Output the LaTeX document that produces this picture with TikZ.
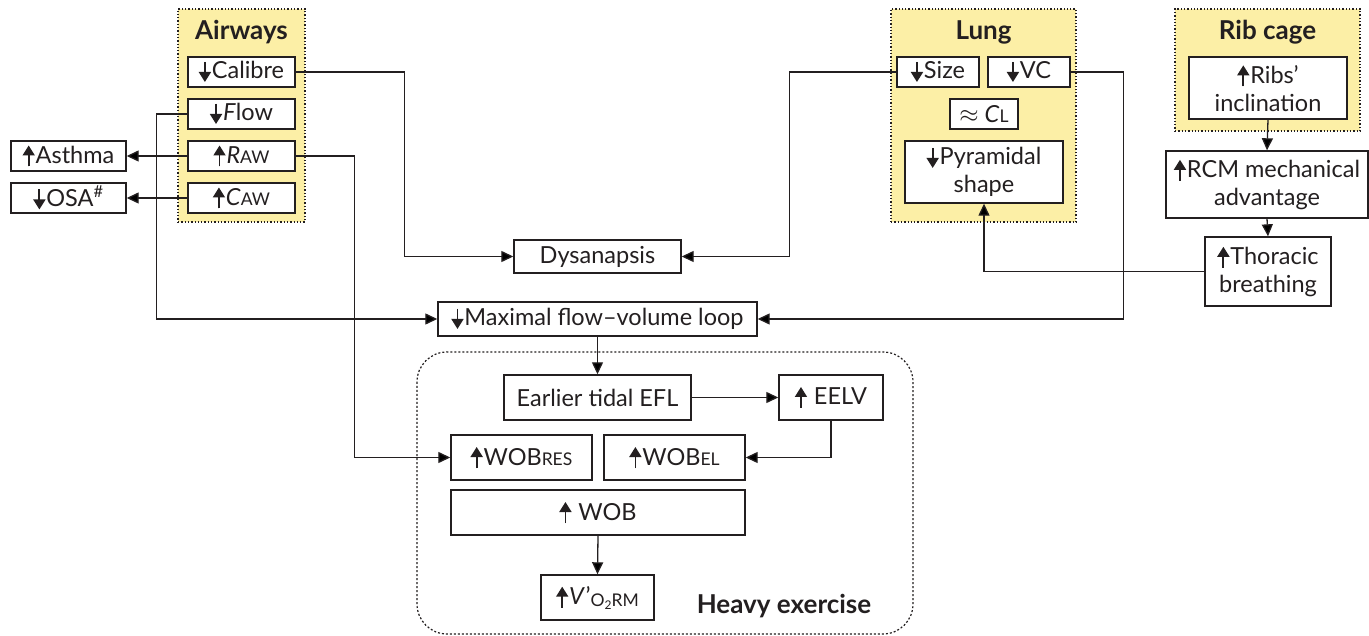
\documentclass[tikz,border=0pt]{standalone}
\usepackage{fontspec}
\setmainfont{Lato}
\usetikzlibrary{arrows.meta,calc}
\definecolor{ink}{HTML}{231F20}
\definecolor{pale}{HTML}{FCEFA6}
\newcommand{\uarr}{\tikz[baseline=0pt]\draw[draw=ink,fill=ink,line width=1.8pt,-{Triangle[length=10pt,width=12pt]}](0pt,-3pt)--(0pt,18pt);\kern1pt}
\newcommand{\darr}{\tikz[baseline=0pt]\draw[draw=ink,fill=ink,line width=1.8pt,-{Triangle[length=10pt,width=12pt]}](0pt,17pt)--(0pt,-3pt);\kern1pt}
\newcommand{\sm}[1]{{\fontsize{17.5}{17.5}\selectfont #1}}
\tikzset{
  box/.style={draw=ink, line width=1.4pt, fill=white, inner sep=0pt, font=\fontsize{23.5}{28}\selectfont, text=ink, align=center},
  grp/.style={draw=ink, dotted, line width=1.3pt, fill=pale, inner sep=0pt},
  conn/.style={draw=ink, line width=1.3pt, -{Triangle[length=12pt,width=11pt]}},
  plain/.style={draw=ink, line width=1.3pt},
  ttl/.style={font=\bfseries\fontsize{26}{30}\selectfont, text=ink, inner sep=0pt},
}
\begin{document}
\begin{tikzpicture}[x=1pt,y=-1pt]
\useasboundingbox (0,0) rectangle (1369,636);
\fill[white] (0,0) rectangle (1369,636);
% groups
\node[grp, minimum width=127pt, minimum height=213pt] (airg) at (241.5,115.5) {};
\node[grp, minimum width=185pt, minimum height=213pt] (lungg) at (983.5,115.5) {};
\node[grp, minimum width=185pt, minimum height=122pt] (ribg) at (1267.5,70) {};
\node[ttl] (airt) at (241.5,32) {Airways};
\node[ttl] (lungt) at (983.5,32) {Lung};
\node[ttl] (ribt) at (1267.5,32) {Rib cage};
% heavy exercise
\draw[draw=ink, line width=1.2pt, dash pattern=on 2pt off 2pt, rounded corners=30pt] (417,352) rectangle (913,634);
\node[ttl] (heavy) at (784,606) {Heavy exercise};
% airways boxes
\node[box, minimum width=107pt, minimum height=30pt] (calibre) at (241.5,72) {\darr Calibre};
\node[box, minimum width=107pt, minimum height=30pt] (flow) at (241.5,114) {\darr\textit{F}low};
\node[box, minimum width=107pt, minimum height=30pt] (raw) at (241.5,156) {\uarr\textit{R}\sm{AW}};
\node[box, minimum width=107pt, minimum height=30pt] (caw) at (241.5,198) {\uarr\textit{C}\sm{AW}};
\node[box, minimum width=115pt, minimum height=30pt] (asthma) at (68.5,156) {\uarr Asthma};
\node[box, minimum width=115pt, minimum height=30pt] (osa) at (68.5,198) {\darr OSA\textsuperscript{\#}};
% lung boxes
\node[box, minimum width=82pt, minimum height=30pt] (size) at (938,72) {\darr Size};
\node[box, minimum width=82pt, minimum height=30pt] (vc) at (1029,72) {\darr VC};
\node[box, minimum width=68pt, minimum height=30pt] (cl) at (984,114) {$\approx$ \textit{C}\sm{L}};
\node[box, minimum width=158pt, minimum height=62pt] (pyr) at (984,172) {\darr Pyramidal\\shape};
% rib cage boxes
\node[box, minimum width=158pt, minimum height=62pt] (ribs) at (1268,88) {\uarr Ribs’\\inclination};
\node[box, minimum width=202pt, minimum height=67pt] (rcm) at (1267,184.5) {\uarr RCM mechanical\\advantage};
\node[box, minimum width=126pt, minimum height=69pt] (thor) at (1268,271.5) {\uarr Thoracic\\breathing};
% central boxes
\node[box, minimum width=167pt, minimum height=33pt] (dys) at (597.5,256.5) {Dysanapsis};
\node[box, minimum width=319pt, minimum height=34pt] (mfv) at (597.5,319) {\darr Maximal flow–volume loop};
\node[box, minimum width=187pt, minimum height=45pt] (efl) at (597.5,397.5) {Earlier tidal EFL};
\node[box, minimum width=104pt, minimum height=45pt] (eelv) at (831,397.5) {\uarr\ EELV};
\node[box, minimum width=141pt, minimum height=45pt] (wobres) at (521.5,457.5) {\uarr WOB\sm{RES}};
\node[box, minimum width=141pt, minimum height=45pt] (wobel) at (674.5,457.5) {\uarr WOB\sm{EL}};
\node[box, minimum width=294pt, minimum height=45pt] (wob) at (598,512.5) {\uarr\ WOB};
\node[box, minimum width=113pt, minimum height=45pt] (vo2) at (597.5,597.5) {\uarr\textit{V}\kern0.5pt’\raisebox{-2pt}{\sm{O\raisebox{-2.5pt}{\fontsize{12}{12}\selectfont 2}RM}}};
% connectors
\draw[conn] (calibre.east) -- ++(109,0) |- (dys.west);
\draw[conn] (flow.west) -- ++(-31,0) |- (mfv.west);
\draw[conn] (raw.west) -- (asthma.east);
\draw[conn] (caw.west) -- (osa.east);
\draw[conn] (raw.east) -- ++(59,0) |- (wobres.west);
\draw[conn] (size.west) -- ++(-107,0) |- (dys.east);
\draw[conn] (vc.east) -- ++(53,0) |- (mfv.east);
\draw[conn] (ribs.south) -- (rcm.north);
\draw[conn] (rcm.south) -- (thor.north);
\draw[conn] (thor.west) -| (pyr.south);
\draw[conn] (mfv.south) -- (efl.north);
\draw[conn] (efl.east) -- (eelv.west);
\draw[conn] (eelv.south) |- (wobel.east);
\draw[conn] (wob.south) -- (vo2.north);
\end{tikzpicture}
\end{document}
